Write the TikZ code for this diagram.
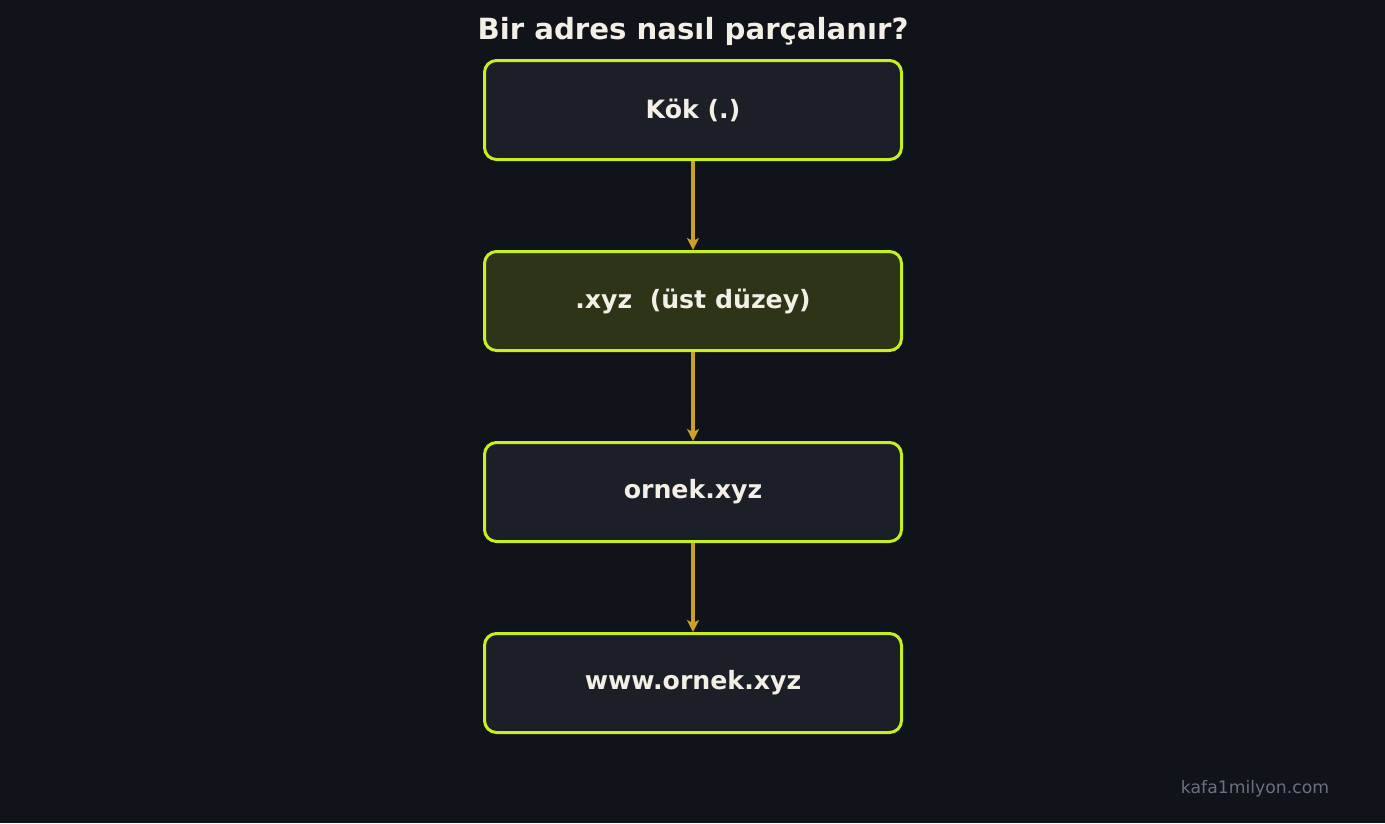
\documentclass[tikz,border=0pt]{standalone}
\usepackage{fontspec}
\setmainfont{DejaVu Sans}
\usetikzlibrary{positioning,arrows.meta}
\definecolor{bgdark}{HTML}{10131A}
\definecolor{boxfill}{HTML}{1C1F27}
\definecolor{tldfill}{HTML}{2D3418}
\definecolor{limeedge}{HTML}{C6F01E}
\definecolor{goldarrow}{HTML}{C9A227}
\definecolor{lighttext}{HTML}{F3EFE6}
\definecolor{marktext}{HTML}{6B7080}
\tikzset{
	levelbox/.style={draw=limeedge, fill=boxfill, line width=3bp, rounded corners=12bp,
		minimum width=417bp, minimum height=99bp, text=lighttext,
		font=\bfseries\fontsize{25.3}{30}\selectfont},
	descend/.style={goldarrow, line width=3.2bp, -{Stealth[length=12bp,width=12bp,inset=3bp]}},
}

\begin{document}
\begin{tikzpicture}[x=1bp, y=-1bp, node distance=89bp]
	\fill[bgdark] (0,0) rectangle (1385,823);
	\useasboundingbox (0,0) rectangle (1385,823);

	\node[text=lighttext, font=\bfseries\fontsize{29.3}{34}\selectfont] (title) at (693,31) {Bir adres nasıl parçalanır?};

	\node[levelbox] (root) at (693,110) {Kök (.)};
	\node[levelbox, fill=tldfill, below=of root] (tld) {.xyz\ \ (üst düzey)};
	\node[levelbox, below=of tld] (domain) {ornek.xyz};
	\node[levelbox, below=of domain] (host) {www.ornek.xyz};

	\draw[descend] (root) -- (tld);
	\draw[descend] (tld) -- (domain);
	\draw[descend] (domain) -- (host);

	\node[text=marktext, font=\fontsize{17.3}{20}\selectfont] (mark) at (1255,789) {kafa1milyon.com};
\end{tikzpicture}
\end{document}
